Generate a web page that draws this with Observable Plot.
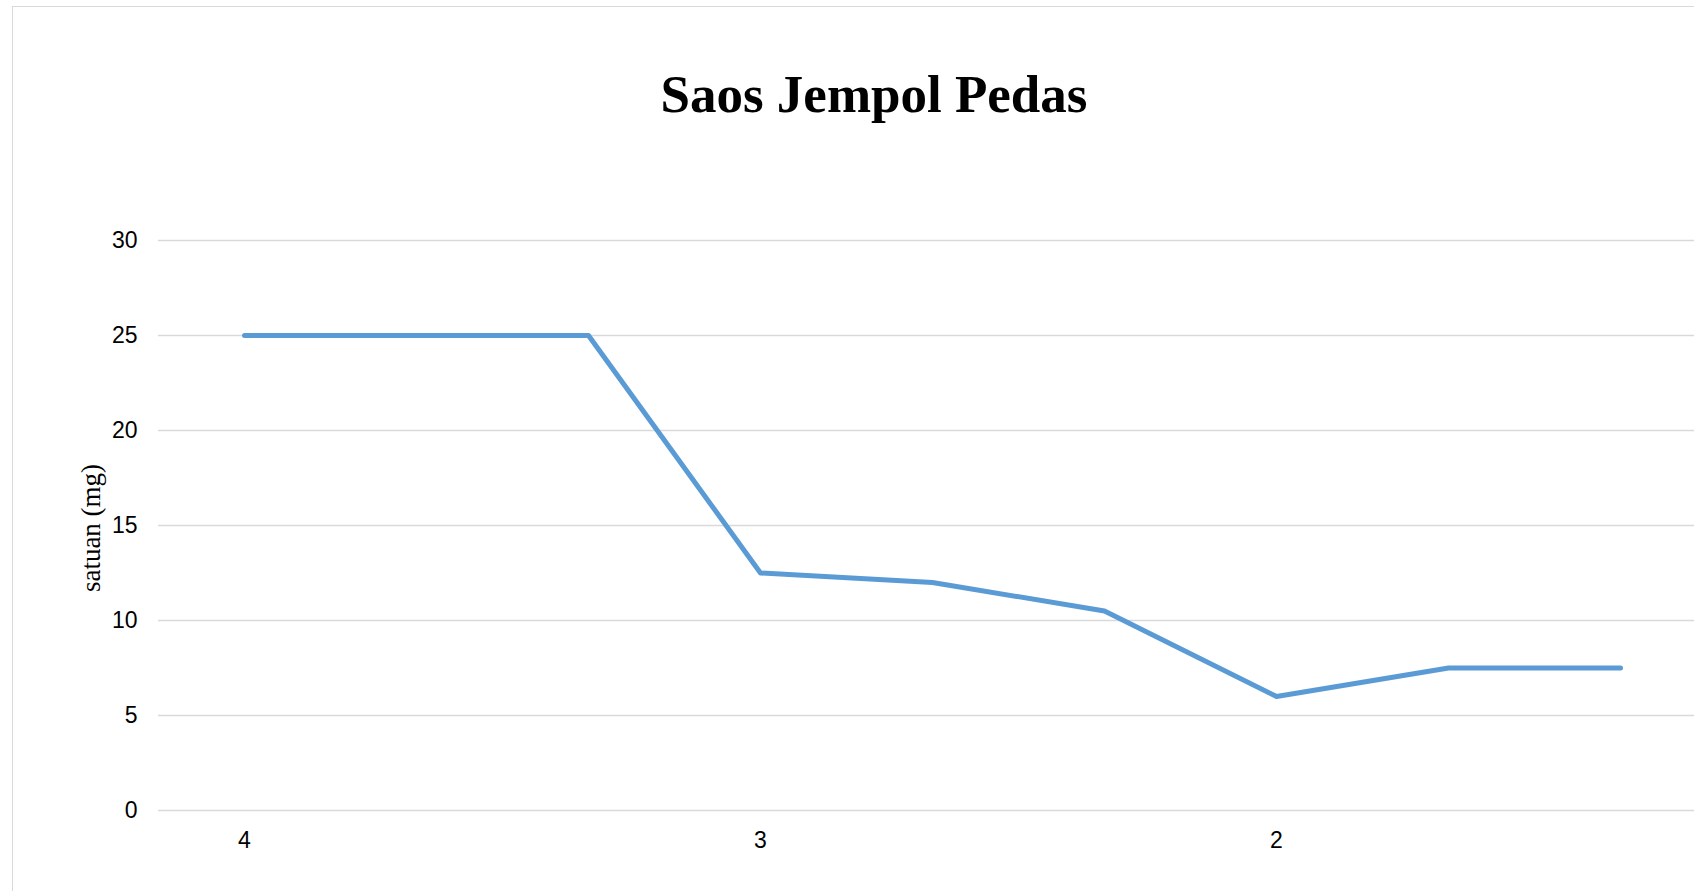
<!DOCTYPE html>
<html>
<head>
<meta charset="utf-8">
<script src="https://cdn.jsdelivr.net/npm/d3@7"></script>
<script src="https://cdn.jsdelivr.net/npm/@observablehq/plot@0.6"></script>
<style>
  html, body { margin: 0; padding: 0; background: #fff; overflow: hidden; width: 1694px; height: 891px; }
  #wrap { position: relative; width: 1694px; height: 891px; overflow: hidden; }
  #border { position: absolute; left: 12px; top: 6px; width: 1730px; height: 1000px; border: 1.5px solid #d9d9d9; box-sizing: border-box; }
  #title { position: absolute; left: 12px; top: 68px; width: 1724px; text-align: center; font: bold 53px "Liberation Serif", "Times New Roman", serif; line-height: 1; color: #000; white-space: nowrap; }
  #ylabel { position: absolute; left: 91px; top: 528px; transform: translate(-50%, -50%) rotate(-90deg); font: 27px "Liberation Serif", "Times New Roman", serif; white-space: nowrap; color: #000; line-height: 1; }
  #chart { position: absolute; left: 0; top: 0; width: 1711px; }
  #chart svg { max-width: none !important; }
</style>
</head>
<body>
<div id="wrap">
  <div id="border"></div>
  <div id="chart"></div>
  <div id="title">Saos Jempol Pedas</div>
  <div id="ylabel">satuan (mg)</div>
</div>
<script>
const categories = [0, 1, 2, 3, 4, 5, 6, 7, 8];
const categoryLabels = ["4", "", "", "3", "", "", "2", "", ""];
const values = [25, 25, 25, 12.5, 12, 10.5, 6, 7.5, 7.5];
const yTicks = [0, 5, 10, 15, 20, 25, 30];

const data = categories.map((c, i) => ({c, v: values[i]}));
const labelTicks = categories.filter((c, i) => categoryLabels[i] !== "");

const plot = Plot.plot({
  width: 1711,
  height: 891,
  marginLeft: 158,
  marginRight: 0,
  marginTop: 240,
  marginBottom: 81,
  style: {background: "transparent", fontFamily: "'Liberation Sans', Arial, sans-serif", fontSize: "23px", color: "#000", overflow: "visible", maxWidth: "none"},
  x: {type: "point", domain: categories, padding: 0.5, align: 0.5, range: [156, 1707]},
  y: {domain: [0, 30]},
  marks: [
    Plot.ruleY(yTicks, {stroke: "#d9d9d9", strokeWidth: 1.5}),
    Plot.axisY({ticks: yTicks, tickSize: 0, tickPadding: 21, label: null, fontSize: 23}),
    Plot.axisX({ticks: labelTicks, tickFormat: d => categoryLabels[d], tickSize: 0, tickPadding: 21, label: null, fontSize: 23}),
    Plot.line(data, {x: "c", y: "v", stroke: "#5b9bd5", strokeWidth: 5, strokeLinecap: "round", strokeLinejoin: "round"})
  ]
});
document.getElementById("chart").appendChild(plot);
</script>
</body>
</html>
